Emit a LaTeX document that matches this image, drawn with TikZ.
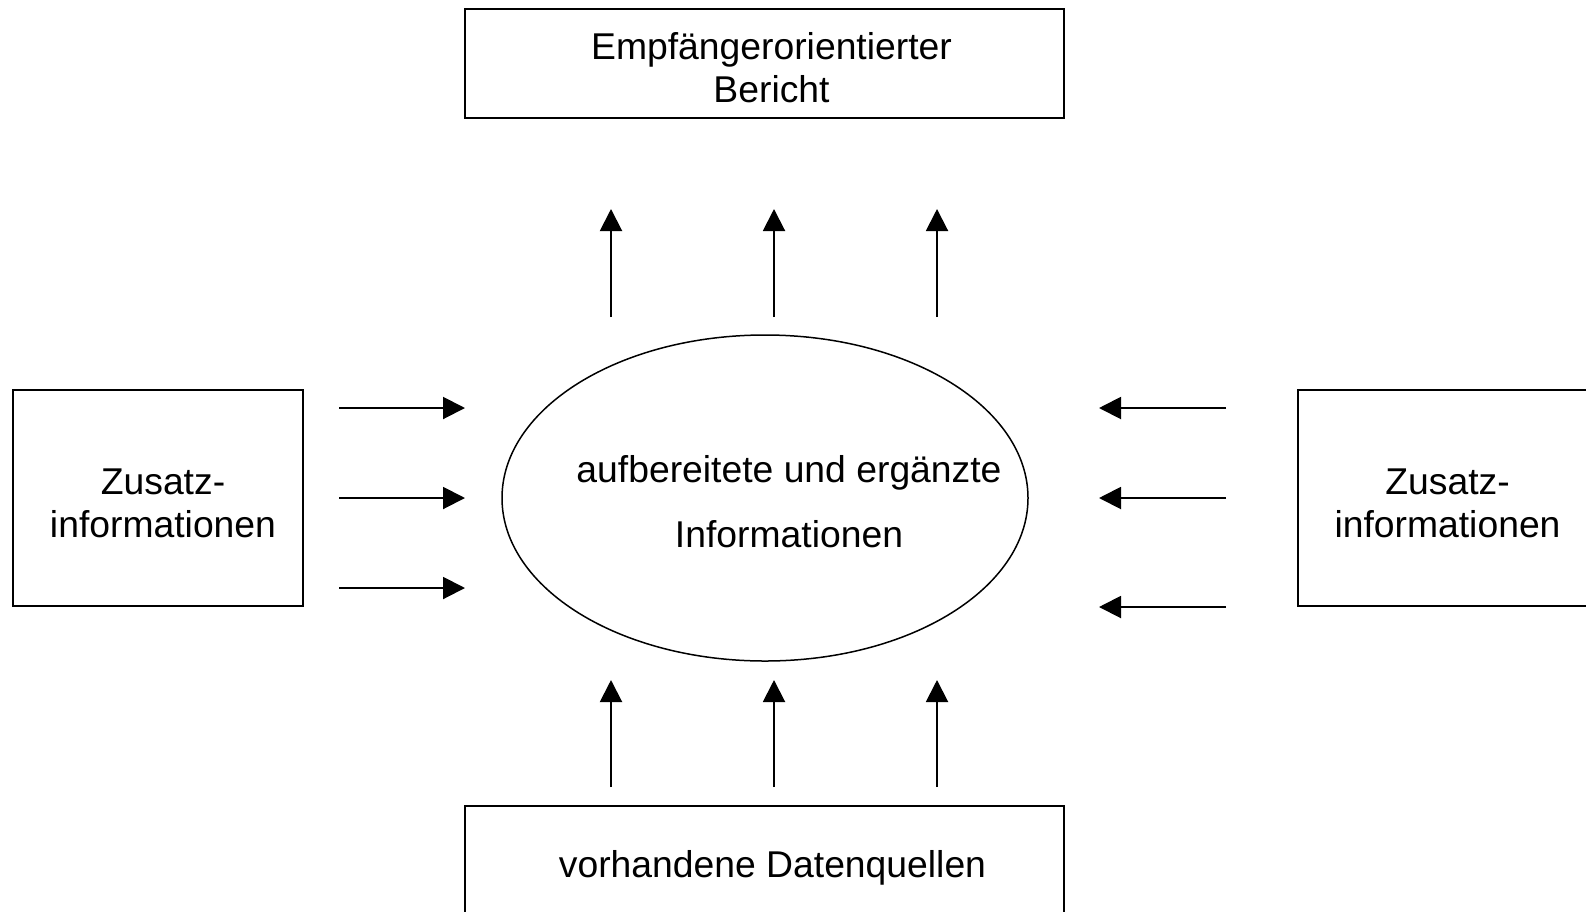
\documentclass[tikz,border=0pt]{standalone}
\usepackage{fontspec}
\setmainfont{Liberation Sans}
\usetikzlibrary{arrows.meta,shapes.geometric}
\begin{document}
\begin{tikzpicture}[x=1pt,y=-1pt,
  box/.style={draw,line width=2pt,rectangle,inner sep=0pt},
  txt/.style={inner sep=0pt,align=center,font=\fontsize{37.3}{43}\selectfont},
  arr/.style={line width=2pt,-{Triangle[length=22pt,width=22pt]}}]
\useasboundingbox (0,0) rectangle (1586,911);
\clip (0,0) rectangle (1586,911);
\fill[white] (0,0) rectangle (1586,911);
% boxes
\node[box,minimum width=599pt,minimum height=109pt] (top) at (764.5,63.5) {};
\node[txt] (toptxt) at (771.5,68) {Empfängerorientierter\\Bericht};
\node[box,minimum width=290pt,minimum height=216pt] (left) at (158,498) {};
\node[txt] (lefttxt) at (163,503) {Zusatz-\\informationen};
\node[box,minimum width=296pt,minimum height=216pt] (right) at (1446,498) {};
\node[txt] (righttxt) at (1447.5,503) {Zusatz-\\informationen};
\node[box,minimum width=599pt,minimum height=118pt] (bottom) at (764.5,865) {};
\node[txt] (bottomtxt) at (772.5,868) {vorhandene Datenquellen};
% ellipse
\node[draw,line width=1.5pt,ellipse,minimum width=526pt,minimum height=326pt,inner sep=0pt] (ell) at (765,498) {};
\node[txt] (elltxt) at (789,502) {aufbereitete und ergänzte\\[22pt]Informationen};
% arrow coordinates
\foreach \n/\x in {1/611,2/774,3/937}{
  \coordinate (ut\n) at (\x,317); \coordinate (uh\n) at (\x,209);
  \coordinate (bt\n) at (\x,787); \coordinate (bh\n) at (\x,680);
}
\foreach \n/\y in {1/408,2/498,3/588}{
  \coordinate (lt\n) at (339,\y); \coordinate (lh\n) at (465,\y);
}
\foreach \n/\y in {1/408,2/498,3/607}{
  \coordinate (rt\n) at (1226,\y); \coordinate (rh\n) at (1099,\y);
}
\foreach \n in {1,2,3}{
  \draw[arr] (ut\n) -- (uh\n);
  \draw[arr] (bt\n) -- (bh\n);
  \draw[arr] (lt\n) -- (lh\n);
  \draw[arr] (rt\n) -- (rh\n);
}
\end{tikzpicture}
\end{document}
